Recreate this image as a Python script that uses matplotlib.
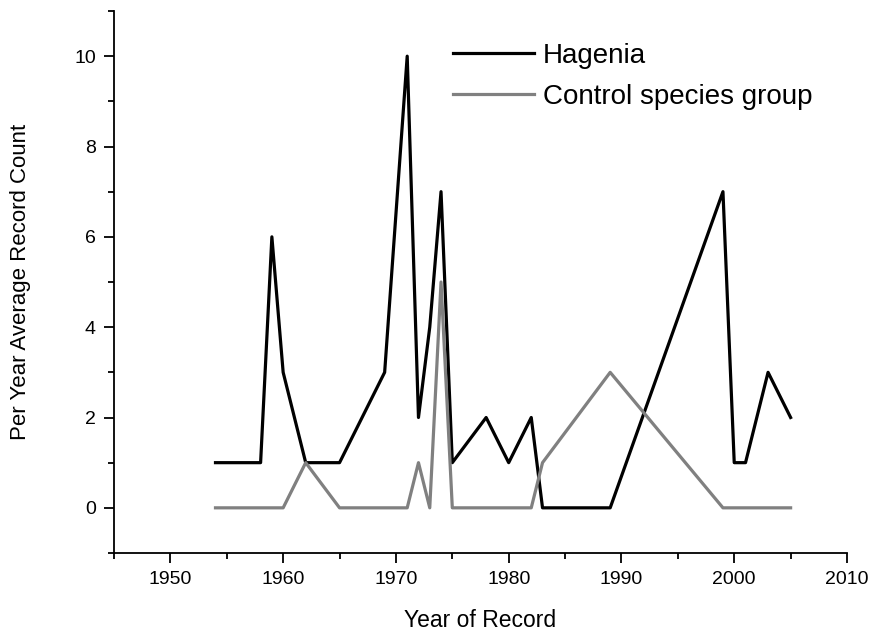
import numpy as np
import matplotlib.pyplot as plt
from matplotlib.ticker import MultipleLocator

plt.rcParams['font.family'] = ['Liberation Sans', 'DejaVu Sans']

# Hagenia records
hag_years = [1954, 1958, 1959, 1960, 1962, 1965, 1969, 1971, 1972, 1973, 1974,
             1975, 1978, 1980, 1982, 1983, 1989, 1999, 2000, 2001, 2003, 2005]
hag_counts = [1, 1, 6, 3, 1, 1, 3, 10, 2, 4, 7, 1, 2, 1, 2, 0, 0, 7, 1, 1, 3, 2]

# Control species group
ctl_years = [1954, 1960, 1962, 1965, 1971, 1972, 1973, 1974, 1975, 1982, 1983,
             1989, 1999, 2005]
ctl_counts = [0, 0, 1, 0, 0, 1, 0, 5, 0, 0, 1, 3, 0, 0]

fig = plt.figure(figsize=(8.72, 6.31), dpi=100)
ax = fig.add_axes([114 / 872, 1 - 553 / 631, 733 / 872, 542 / 631])

ax.plot(hag_years, hag_counts, color='black', lw=2.3, label='Hagenia')
ax.plot(ctl_years, ctl_counts, color='#808080', lw=2.3, label='Control species group')

ax.set_xlim(1945, 2010)
ax.set_ylim(-1, 11)
ax.xaxis.set_major_locator(MultipleLocator(10))
ax.xaxis.set_minor_locator(MultipleLocator(5))
ax.yaxis.set_major_locator(MultipleLocator(2))
ax.yaxis.set_minor_locator(MultipleLocator(1))
ax.set_xticks(range(1950, 2011, 10))

for s in ['top', 'right']:
    ax.spines[s].set_visible(False)
for s in ['left', 'bottom']:
    ax.spines[s].set_linewidth(1.3)
ax.tick_params(which='major', direction='out', length=7, width=1.3, labelsize=14, pad=6)
ax.tick_params(which='minor', direction='out', length=4, width=1.3)

ax.set_xlabel('Year of Record', fontsize=16.5)
ax.set_ylabel('Per Year Average Record Count', fontsize=16)
ax.xaxis.set_label_coords(0.5, -(609 - 553) / 542)
ax.yaxis.set_label_coords(-(114 - 31) / 733, 0.5)

ax.legend(loc='upper left', bbox_to_anchor=(453 / 872, 1 - 43 / 631),
          bbox_transform=fig.transFigure, frameon=False, fontsize=20,
          handlelength=2.9, handletextpad=0.33, labelspacing=0.53,
          borderpad=0, borderaxespad=0)

fig.savefig('out.png', dpi=100)
